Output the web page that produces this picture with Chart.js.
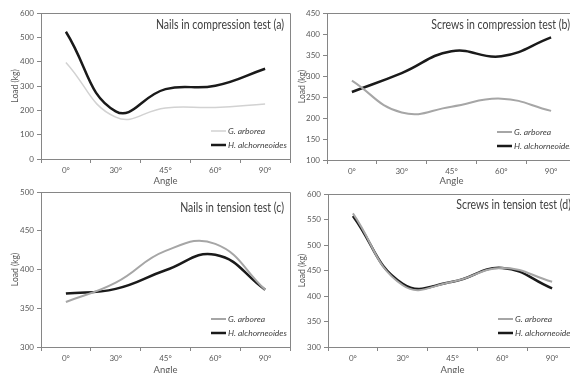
<!DOCTYPE html>
<html><head><meta charset="utf-8">
<script src="https://cdn.jsdelivr.net/npm/chart.js@4/dist/chart.umd.min.js"></script>
<style>
html,body{margin:0;padding:0;background:#fff;overflow:hidden;width:570px;height:373px;position:relative;}
canvas{position:absolute;}
</style></head><body>
<canvas id="ca" width="295" height="190" style="left:0;top:0"></canvas>
<canvas id="cb" width="300" height="190" style="left:286px;top:0"></canvas>
<canvas id="cc" width="295" height="200" style="left:0;top:180px"></canvas>
<canvas id="cd" width="300" height="200" style="left:286px;top:180px"></canvas>
<script>
const angles = ['0°', '30°', '45°', '60°', '90°'];
const seriesNames = ['G. arborea', 'H. alchorneoides'];
const nailsCompG = [397, 172, 210, 212, 226];
const nailsCompH = [523, 196, 287, 301, 371];
const screwsCompG = [289, 213, 227, 246, 217];
const screwsCompH = [262, 307, 359, 347, 392];
const nailsTensG = [358, 383, 424, 433, 374];
const nailsTensH = [369, 375, 399, 419, 374];
const screwsTensG = [562, 421, 428, 455, 428];
const screwsTensH = [557, 424, 428, 455, 415];

const FONT = 'Lato, "Open Sans", sans-serif';
const AXIS = '#868686';
const TXT = '#595959';

const deco = {
  id: 'deco',
  beforeDatasetsDraw(chart) {
    const {ctx, chartArea: a} = chart;
    ctx.save();
    ctx.strokeStyle = AXIS; ctx.lineWidth = 1;
    ctx.beginPath();
    ctx.moveTo(a.left, a.top + 0.5); ctx.lineTo(a.right + 0.5, a.top + 0.5); ctx.lineTo(a.right + 0.5, a.bottom);
    ctx.stroke();
    ctx.restore();
  },
  afterDatasetsDraw(chart, args, o) {
    const {ctx, chartArea: a} = chart;
    ctx.save();
    ctx.fillStyle = '#404040';
    ctx.font = '13px ' + FONT;
    ctx.textAlign = 'right'; ctx.textBaseline = 'middle';
    ctx.save();
    ctx.translate(a.right - 6, a.top + o.titleDy);
    ctx.scale(0.81, 1);
    ctx.fillText(o.title, 0, 0);
    ctx.restore();
    ctx.font = 'italic 8.5px ' + FONT;
    ctx.textAlign = 'left';
    chart.data.datasets.forEach((ds, i) => {
      const y = a.bottom - 28 + 14 * i;
      ctx.strokeStyle = ds.borderColor; ctx.lineWidth = ds.borderWidth;
      ctx.beginPath(); ctx.moveTo(a.right - 79, y); ctx.lineTo(a.right - 64, y); ctx.stroke();
      ctx.fillText(ds.label, a.right - 62, y);
    });
    ctx.restore();
  }
};

function panel(id, g, h, gColor, gWidth, ymin, ymax, step, geo) {
  new Chart(document.getElementById(id), {
    type: 'line',
    data: {
      labels: angles,
      datasets: [
        {label: seriesNames[0], data: g, borderColor: gColor, borderWidth: gWidth, pointRadius: 0, tension: 0.45, fill: false},
        {label: seriesNames[1], data: h, borderColor: '#1a1a1a', borderWidth: 2.5, pointRadius: 0, tension: 0.45, fill: false}
      ]
    },
    options: {
      responsive: false, animation: false, devicePixelRatio: 1,
      layout: {padding: {top: geo.pt, right: geo.pr, left: 0, bottom: 0}},
      plugins: {legend: {display: false}, tooltip: {enabled: false}, deco: {title: geo.title, titleDy: geo.tdy}},
      scales: {
        x: {
          type: 'category', offset: true,
          grid: {offset: true, drawOnChartArea: false, tickLength: 4, color: AXIS},
          border: {color: AXIS},
          ticks: {color: TXT, font: {size: 8, family: FONT}, padding: 3, maxRotation: 0},
          title: {display: true, text: 'Angle', color: TXT, font: {size: 9.5, family: FONT}, padding: {top: 0, bottom: geo.xtb}},
          afterFit(s) { s.height = geo.xh; }
        },
        y: {
          min: ymin, max: ymax,
          grid: {drawOnChartArea: false, tickLength: 4, color: AXIS},
          border: {color: AXIS},
          ticks: {stepSize: step, color: TXT, font: {size: 8, family: FONT}, padding: 3},
          title: {display: true, text: 'Load (kg)', color: TXT, font: {size: 8.5, family: FONT}, padding: {top: geo.ytp, bottom: 0}},
          afterFit(s) { s.width = geo.yw; }
        }
      }
    },
    plugins: [deco]
  });
}

panel('ca', nailsCompG, nailsCompH, '#d2d2d2', 1.5, 0, 600, 100,
  {pt: 13, pr: 5, xh: 31, yw: 41, xtb: 3, ytp: 10, title: 'Nails in compression test (a)', tdy: 12});
panel('cb', screwsCompG, screwsCompH, '#a6a6a6', 2, 100, 450, 50,
  {pt: 13, pr: 10, xh: 30, yw: 41, xtb: 3, ytp: 11, title: 'Screws in compression test (b)', tdy: 12});
panel('cc', nailsTensG, nailsTensH, '#a6a6a6', 2, 300, 500, 50,
  {pt: 12, pr: 5, xh: 33, yw: 41, xtb: 4, ytp: 10, title: 'Nails in tension test (c)', tdy: 16});
panel('cd', screwsTensG, screwsTensH, '#a6a6a6', 2, 300, 600, 50,
  {pt: 14, pr: 9, xh: 33, yw: 42, xtb: 4, ytp: 11, title: 'Screws in tension test (d)', tdy: 11});
</script>
</body></html>
